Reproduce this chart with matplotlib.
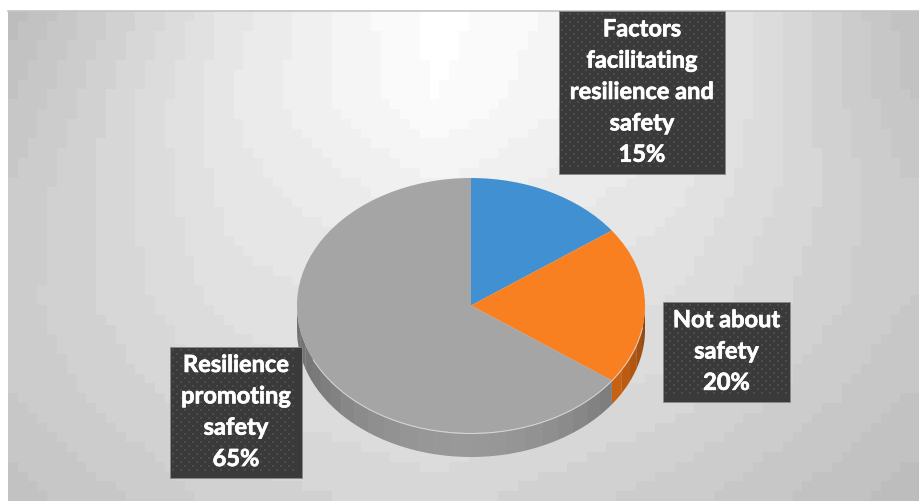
import numpy as np
import matplotlib
matplotlib.use('Agg')
import matplotlib.pyplot as plt
import matplotlib.patheffects as pe
from matplotlib.patches import Rectangle, Polygon

labels = ['Factors\nfacilitating\nresilience and\nsafety', 'Not about\nsafety', 'Resilience\npromoting\nsafety']
values = [15, 20, 65]
colors = ['#4191d2', '#f98021', '#a5a5a5']
wall_colors = ['#2f6a9c', '#b85a12', '#9c9c9c']

# gray levels of the backdrop read at a few places
bg_x = [8, 230, 440, 680, 920]
bg_y = [12, 100, 180, 300, 400, 502]
bg_gray = [[.74, .90, 1.0, .93, .76],
           [.77, .91, .99, .92, .77],
           [.79, .90, .95, .90, .79],
           [.80, .88, .90, .87, .79],
           [.79, .85, .88, .84, .77],
           [.76, .82, .84, .80, .74]]

plt.rcParams['font.family'] = ['Lato', 'DejaVu Sans']

W, H = 920, 502
fig = plt.figure(figsize=(W / 100, H / 100), dpi=100, facecolor='white')

# everything but the pie is placed in pixels
bg = fig.add_axes([0, 0, 1, 1])
bg.axis('off')

# backdrop in coarse steps, like the banding of the original
gx = np.arange(8, W + 10, 10)
gy = np.arange(12, H + 10, 10)
rows = np.array([np.interp(gx, bg_x, r) for r in bg_gray])
shade = np.array([np.interp(gy, bg_y, rows[:, j]) for j in range(len(gx))]).T
shade = np.round(shade * 50) / 50
bg.imshow(shade, extent=(8, W, H, 12), cmap='gray', vmin=0, vmax=1, aspect='auto',
          interpolation='nearest', zorder=0)
bg.set_xlim(0, W)
bg.set_ylim(H, 0)
bg.plot([8, W], [12, 12], color='#c4c4c4', lw=1.2, zorder=1)

cx, cy, rx, ry, depth = 471, 306.5, 174, 127.5, 24

# side wall, lit differently along the rim
edges = np.cumsum([0] + values) / sum(values) * 360
step = 6.0
for i in range(len(values)):
    a0, a1 = max(edges[i], 90), min(edges[i + 1], 270)
    if a1 <= a0:
        continue
    base = np.array(matplotlib.colors.to_rgb(wall_colors[i]))
    for s in np.arange(a0, a1, step):
        th = np.radians(np.linspace(s, min(s + step, a1) + 0.2, 5))
        x = cx + rx * np.sin(th)
        y = cy - ry * np.cos(th)
        pts = np.r_[np.c_[x, y], np.c_[x, y + depth][::-1]]
        if i == 2:
            k = 0.72 + 0.26 * np.cos(np.radians(s - 180)) ** 2
        else:
            k = 1.15 - 0.4 * (a1 - s) / (a1 - a0)
        bg.add_patch(Polygon(pts, closed=True, fc=np.clip(base * k, 0, 1), ec='none', zorder=2))

# top of the pie
ax = fig.add_axes([(cx - rx) / W, 1 - (cy + ry) / H, 2 * rx / W, 2 * ry / H])
ax.pie(values, colors=colors, startangle=90, counterclock=False, radius=1)
ax.set_aspect('auto')
ax.set_xlim(-1, 1)
ax.set_ylim(-1, 1)
ax.patch.set_alpha(0)

# overlay for the bevel line and the label boxes
top = fig.add_axes([0, 0, 1, 1], sharex=bg, sharey=bg)
top.axis('off')
th = np.radians(np.linspace(100, 245, 200))
top.plot(cx + rx * np.sin(th), cy - ry * np.cos(th) + 0.5, color='#e8e8e8', lw=0.7, alpha=0.8)

boxes = [(559, 12, 166, 163), (663, 303, 127, 100), (170, 348, 132, 131)]
for (x, y, w, h), name, val in zip(boxes, labels, values):
    top.add_patch(Rectangle((x, y), w, h, fc='#3a3a3a', ec='#8a8a8a', lw=0.6, zorder=3))
    # dotted texture of the label fill
    dx, dy = np.meshgrid(np.arange(x + 3, x + w - 1, 8), np.arange(y + 3, y + h - 1, 8))
    top.scatter(dx, dy, s=2.0, marker='s', color='#4c4c4c', linewidths=0, zorder=3)
    top.scatter(dx[:-1, :-1] + 4, dy[:-1, :-1] + 4, s=2.0, marker='s', color='#4c4c4c', linewidths=0, zorder=3)
    top.text(x + w / 2, y + h / 2 - 1, f'{name}\n{val}%', color='white', fontsize=17, fontweight='bold',
             ha='center', va='center', linespacing=1.44, zorder=4,
             path_effects=[pe.withStroke(linewidth=0.5, foreground='white')])

fig.savefig('out.png', dpi=100)
